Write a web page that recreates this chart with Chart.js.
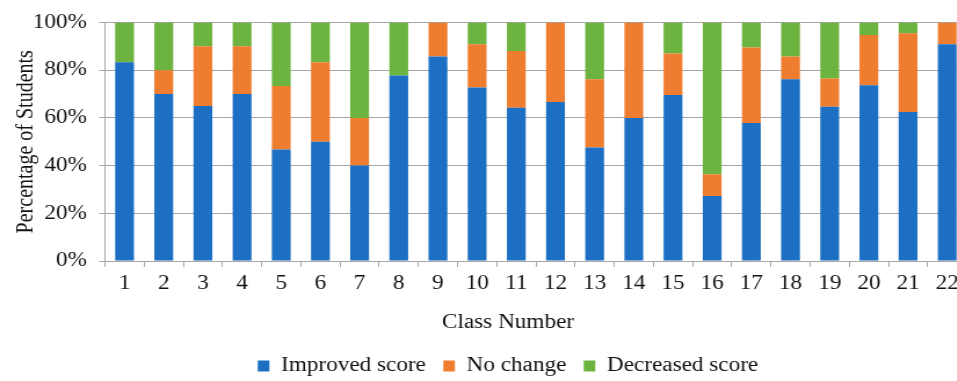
<!DOCTYPE html>
<html>
<head>
<meta charset="utf-8">
<script src="https://cdn.jsdelivr.net/npm/chart.js@4.4.1/dist/chart.umd.min.js"></script>
<style>
  html, body { margin: 0; padding: 0; background: #fff; overflow: hidden; }
  #wrap { width: 957px; height: 381px; overflow: hidden; position: relative; }
  #chart { display: block; }
</style>
</head>
<body>
<div id="wrap">
  <!-- the source picture is stretched sideways, so the canvas is drawn narrower and widened by CSS -->
  <canvas id="chart" width="876" height="386" style="width:1016px;height:386px"></canvas>
</div>
<script>
// --- data (percent of students per class) ---
const classNumbers = ['1','2','3','4','5','6','7','8','9','10','11','12','13','14','15','16','17','18','19','20','21','22'];
const improved  = [83.3, 70, 65, 70, 46.7, 50, 40, 77.8, 85.7, 72.7, 64.3, 66.7, 47.6, 60, 69.6, 27.3, 57.9, 76.2, 64.7, 73.7, 62.5, 90.9];
const noChange  = [0, 10, 25, 20, 26.7, 33.3, 20, 0, 14.3, 18.2, 23.7, 33.3, 28.6, 40, 17.4, 9.1, 31.6, 9.5, 11.8, 21.1, 33.0, 9.1];
const decreased = [16.7, 20, 10, 10, 26.6, 16.7, 40, 22.2, 0, 9.1, 12.0, 0, 23.8, 0, 13.0, 63.6, 10.5, 14.3, 23.5, 5.2, 4.5, 0];
const yTicks = [0, 20, 40, 60, 80, 100];

const serif = 'Liberation Serif';
const gridGray = '#a6a6a6';
const textColor = '#111';

const ctx = document.getElementById('chart');

new Chart(ctx, {
  type: 'bar',
  data: {
    labels: classNumbers,
    datasets: [
      { label: 'Improved score', data: improved, backgroundColor: '#1c6fc2', borderWidth: 0 },
      { label: 'No change', data: noChange, backgroundColor: '#ee7d2f', borderWidth: 0 },
      { label: 'Decreased score', data: decreased, backgroundColor: '#6cb33f', borderWidth: 0 }
    ]
  },
  options: {
    responsive: false,
    animation: false,
    devicePixelRatio: 1,
    layout: { padding: { top: 20, left: 0, right: 0, bottom: 0 } },
    datasets: {
      bar: { categoryPercentage: 1, barPercentage: 0.48 }
    },
    plugins: {
      tooltip: { enabled: false },
      // used as the x axis title, so it sits centred on the whole figure like the original
      title: {
        display: true,
        text: 'Class Number',
        position: 'bottom',
        weight: 500,
        color: textColor,
        font: { family: serif, size: 20, weight: 'normal', lineHeight: 0.8 },
        padding: { top: 14, bottom: 10 }
      },
      legend: {
        position: 'bottom',
        labels: {
          color: textColor,
          font: { family: serif, size: 20 },
          boxWidth: 10,
          boxHeight: 11,
          padding: 15
        }
      }
    },
    scales: {
      x: {
        stacked: true,
        grid: { drawOnChartArea: false, tickLength: 6, color: gridGray, offset: true },
        border: { display: true, color: gridGray },
        ticks: { color: textColor, font: { family: serif, size: 20, lineHeight: 1 }, padding: 7, maxRotation: 0 }
      },
      y: {
        stacked: true,
        min: 0,
        max: 100,
        afterBuildTicks: (scale) => { scale.ticks = yTicks.map(v => ({ value: v })); },
        afterFit: (scale) => { scale.width = 90.5; },
        grid: { color: gridGray, tickLength: 5 },
        border: { display: true, color: gridGray },
        ticks: {
          color: textColor,
          font: { family: serif, size: 20 },
          padding: 10.5,
          callback: (v) => v + '%'
        },
        title: {
          display: true,
          text: 'Percentage of Students',
          color: textColor,
          font: { family: serif, size: 20, lineHeight: 1 },
          padding: { top: 13, bottom: 0 }
        }
      },
      // empty right-hand axis, only reserves the space where the plot is cut off
      yRight: {
        position: 'right',
        display: true,
        grid: { display: false },
        border: { display: false },
        ticks: { display: false },
        afterFit: (scale) => { scale.width = 42.4; }
      }
    }
  }
});
</script>
</body>
</html>
